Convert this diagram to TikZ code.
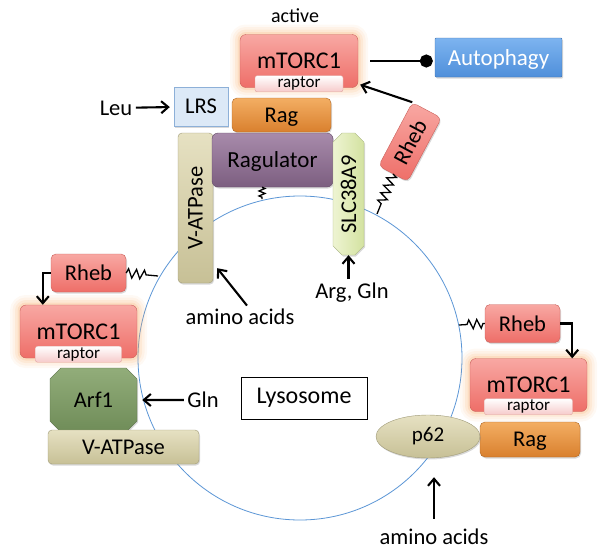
\documentclass[tikz,border=0pt]{standalone}
\usepackage{fontspec}
\setmainfont{Carlito}
\usepackage{xcolor}
\usepackage{tikz}
\usetikzlibrary{positioning}
\usetikzlibrary{shapes.misc}
\usetikzlibrary{shapes.geometric}
\usetikzlibrary{shadows}
\usetikzlibrary{arrows.meta}
\usetikzlibrary{decorations.pathmorphing}
\definecolor{mtortop}{HTML}{F8A8A3}
\definecolor{mtorbot}{HTML}{EE6E68}
\definecolor{mtorline}{HTML}{C9605A}
\definecolor{glowc}{HTML}{F7A860}
\definecolor{raptorc}{HTML}{F6CACA}
\definecolor{ragtop}{HTML}{F3AE63}
\definecolor{ragbot}{HTML}{D9802E}
\definecolor{regtop}{HTML}{A88BAB}
\definecolor{regbot}{HTML}{7C5E80}
\definecolor{lrsc}{HTML}{DCE9F7}
\definecolor{lrsline}{HTML}{8DB0D8}
\definecolor{vtop}{HTML}{E6E1C2}
\definecolor{vbot}{HTML}{C7C096}
\definecolor{slctop}{HTML}{EEF4D2}
\definecolor{slcbot}{HTML}{D3E2A0}
\definecolor{arftop}{HTML}{92AD7A}
\definecolor{arfbot}{HTML}{6F8C58}
\definecolor{auttop}{HTML}{7DB4F0}
\definecolor{autbot}{HTML}{4F8FDA}
\definecolor{lysoblue}{HTML}{5A95D5}
\newcommand{\fsz}[1]{\fontsize{#1}{#1}\selectfont}

\begin{document}
\begin{tikzpicture}[
    x=1pt, y=-1pt,
    font=\fsz{22.5},
    shd/.style={drop shadow={opacity=.3, shadow xshift=1pt, shadow yshift=-1.5pt}},
    mtorbox/.style={rounded corners=6pt, draw=mtorline, top color=mtortop, bottom color=mtorbot,
      minimum width=117pt, minimum height=53pt, inner sep=0pt, text depth=0pt, font=\fsz{24},
      preaction={draw=glowc, draw opacity=.07, line width=20pt},
      preaction={draw=glowc, draw opacity=.09, line width=15pt},
      preaction={draw=glowc, draw opacity=.12, line width=10pt},
      preaction={draw=glowc, draw opacity=.18, line width=5pt}},
    raptorbox/.style={rounded corners=2pt, draw=mtorline!60, top color=white, bottom color=raptorc,
      minimum width=88pt, minimum height=16pt, inner sep=0pt, font=\fsz{17}},
    rhebbox/.style={rounded corners=5pt, draw=mtorline, top color=mtortop, bottom color=mtorbot,
      minimum width=75pt, minimum height=38pt, inner sep=0pt, text depth=0pt, shd},
    ragbox/.style={rounded corners=5pt, draw=ragbot!80!black, top color=ragtop, bottom color=ragbot,
      minimum width=100pt, minimum height=34pt, inner sep=0pt, text depth=0pt, shd},
    vbox/.style={rounded corners=4pt, draw=vbot!80!black, top color=vtop, bottom color=vbot,
      inner sep=0pt, text depth=0pt, shd},
    zz/.style={line width=1.3pt, decorate, decoration={zigzag, segment length=8pt, amplitude=4.5pt}},
    arr/.style={-{Straight Barb[length=7pt,width=12pt]}, line width=2.1pt},
    inh/.style={-{Circle[length=13pt]}, line width=2.1pt}
]
\useasboundingbox (0,0) rectangle (608,552);
% lysosome
\node[circle, draw=lysoblue, line width=.8pt, minimum size=324pt, inner sep=0pt] (lyso) at (300,358) {};
\node[draw, line width=.7pt, fill=white, minimum width=126pt, minimum height=42pt, font=\fsz{24}] (lysolab) at (304,398) {Lysosome};
\coordinate (zL) at (158,276);
\coordinate (zR) at (459,325);
\coordinate (zT) at (377,214);
\coordinate (zG) at (262,199);

% top complex
\node[font=\fsz{20}] (act) at (295,16) {active};
\node[mtorbox, minimum width=118pt] (mT) at (299,61) {mTORC1};
\node[raptorbox] (mTr) at ([yshift=4pt]mT.south) {raptor};
\node[rounded corners=1pt, draw=autbot!80!black, top color=auttop, bottom color=autbot, text=white,
  minimum width=127pt, minimum height=39pt, inner sep=0pt, text depth=0pt, font=\fsz{23}, shd] (aut) at (498.5,57.5) {Autophagy};
\draw[inh, shorten <=12pt, shorten >=2pt] (mT.east) -- (mT.east -| aut.west);
\node[draw=lrsline, fill=lrsc, minimum width=54pt, minimum height=39pt, inner sep=0pt, text depth=0pt, shd] (lrs) at (201,106.5) {LRS};
\node (leu) at (116,108) {Leu};
\draw[arr, shorten >=4pt] (leu) -- (lrs);
\node[ragbox, minimum width=99pt] (ragT) at (281.5,115) {Rag};
\node[vbox, rotate=90, minimum width=150pt, minimum height=35pt] (vT) at (195.5,208) {V-ATPase};
\node[rounded corners=6pt, draw=regbot!80!black, top color=regtop, bottom color=regbot,
  minimum width=121pt, minimum height=54pt, inner sep=0pt, text depth=0pt, font=\fsz{23}, shd] (reg) at (272.5,160) {Ragulator};
\node[chamfered rectangle, chamfered rectangle xsep=6pt, rotate=90, draw=slcbot!80!black, left color=slctop, right color=slcbot,
  minimum width=122pt, minimum height=31pt, inner sep=0pt, text depth=0pt, shd] (slc) at (348.5,194) {SLC38A9};
\node[rhebbox, rotate=62, minimum width=72pt, minimum height=33pt] (rhT) at (410,142) {Rheb};
\draw[arr] (rhT.north east) -- ([shift={(2pt,3pt)}]mT.south east);
\draw[zz, decoration={post length=10pt}] (rhT.west) -- (zT);
\draw[zz, decoration={amplitude=3pt, segment length=5pt}] (reg.south -| zG) -- (zG);
\node (argln) at (352,292.5) {Arg, Gln};
\draw[arr] (argln.north -| slc.west) -- (slc.west);
\node (aaT) at (240,317) {amino acids};
\draw[arr] ([xshift=7pt]aaT.north) -- ([shift={(4pt,15pt)}]vT.south west);

% left complex
\node[rhebbox] (rhL) at (88.5,273) {Rheb};
\node[mtorbox] (mL) at (78.5,331.5) {mTORC1};
\node[raptorbox, minimum width=86pt] (mLr) at ([yshift=4pt]mL.south) {raptor};
\node[chamfered rectangle, chamfered rectangle xsep=15pt, draw=arfbot!80!black, top color=arftop, bottom color=arfbot,
  minimum width=87pt, minimum height=64pt, inner sep=0pt, text depth=0pt, shd] (arf) at (93.5,400) {Arf1};
\node[vbox, minimum width=151pt, minimum height=34pt] (vL) at (123.5,447) {V-ATPase};
\draw[zz, decoration={post length=8pt}] (rhL.east) -- (zL);
\draw[arr] (rhL.west) -| ([xshift=23pt]mL.north west);
\node (glnL) at (203,400) {Gln};
\draw[arr, shorten >=5pt] (glnL) -- (arf);

% right complex
\node[rhebbox] (rhR) at (522.5,323.5) {Rheb};
\node[mtorbox] (mR) at (528.5,385) {mTORC1};
\node[raptorbox] (mRr) at ([yshift=5pt]mR.south) {raptor};
\node[ragbox, minimum height=35pt] (ragR) at (530,439.5) {Rag};
\node[ellipse, draw=vbot!80!black, top color=vtop, bottom color=vbot, minimum width=104pt, minimum height=43pt,
  inner sep=0pt, font=\fsz{21}, shd] (p62) at (428,436.5) {p62};
\draw[zz, decoration={pre length=8pt}] (zR) -- (rhR.west);
\draw[arr] (rhR.east) -| ([xshift=-15pt]mR.north east);
\node (aaB) at (434,537) {amino acids};
\draw[arr, shorten <=7pt, shorten >=19pt] (aaB.north) -- (aaB.north |- p62.south);
\end{tikzpicture}
\end{document}
